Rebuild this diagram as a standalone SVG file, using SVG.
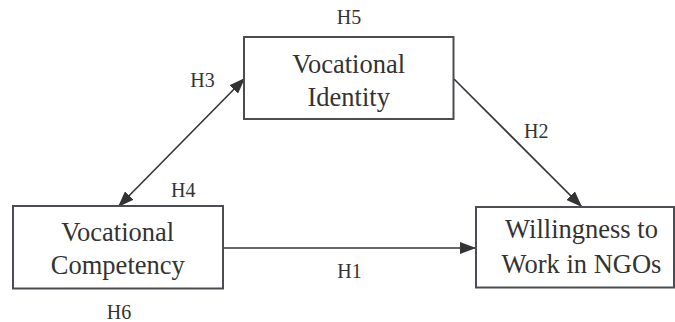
<svg xmlns="http://www.w3.org/2000/svg" width="675" height="322" viewBox="0 0 675 322">
<style>
.box{fill:#fff;stroke:#4a4d52;stroke-width:2}
.t{font-family:"Liberation Serif","Times New Roman",serif;font-size:26.5px;fill:#333;text-anchor:middle}
.l{font-family:"Liberation Serif","Times New Roman",serif;font-size:20px;fill:#333;text-anchor:middle}
.c{stroke:#333;stroke-width:1.6;fill:none}
</style>
<defs>
<marker id="ah" viewBox="0 0 16 12" refX="16" refY="6" markerWidth="16" markerHeight="12" markerUnits="userSpaceOnUse" orient="auto-start-reverse">
<path d="M0,0 L16,6 L0,12 z" fill="#333"/>
</marker>
</defs>
<rect width="675" height="322" fill="#fff"/>
<g id="connectors">
<line class="c" x1="118" y1="207" x2="245" y2="78" marker-start="url(#ah)" marker-end="url(#ah)"/>
<line class="c" x1="454" y1="79" x2="582" y2="207" marker-end="url(#ah)"/>
<line class="c" x1="223" y1="248" x2="476" y2="248" marker-end="url(#ah)"/>
</g>
<g id="identity">
<rect class="box" x="244" y="37" width="209.5" height="82"/>
<text class="t" x="348.7" y="72.7">Vocational</text>
<text class="t" x="348.7" y="106">Identity</text>
</g>
<g id="competency">
<rect class="box" x="13" y="206" width="210" height="82.5"/>
<text class="t" x="117.8" y="240.7">Vocational</text>
<text class="t" x="117.8" y="274">Competency</text>
</g>
<g id="willingness">
<rect class="box" x="476" y="207" width="198" height="80.5"/>
<text class="t" x="581.5" y="237.5">Willingness to</text>
<text class="t" x="581.5" y="272.7">Work in NGOs</text>
</g>
<g id="labels">
<text class="l" x="349" y="24">H5</text>
<text class="l" x="202.5" y="86.7">H3</text>
<text class="l" x="536.3" y="138.3">H2</text>
<text class="l" x="183.3" y="196.7">H4</text>
<text class="l" x="349.5" y="278">H1</text>
<text class="l" x="119" y="319.3">H6</text>
</g>
</svg>
